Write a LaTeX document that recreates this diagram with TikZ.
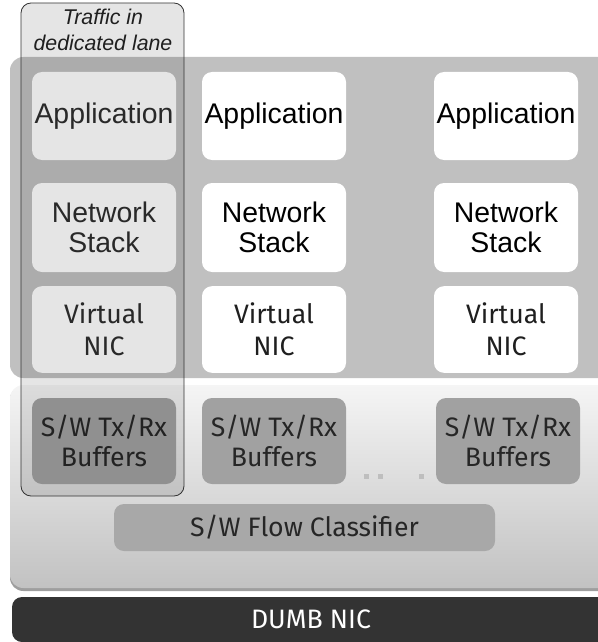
\documentclass[tikz,border=0pt]{standalone}
\usepackage{fontspec}
\setmainfont{Liberation Sans}
\newfontfamily\humfont{Fira Sans}
\usepackage{xcolor}

\definecolor{panelgray}{RGB}{192,192,192}
\definecolor{bufgray}{RGB}{161,161,161}
\definecolor{flowgray}{RGB}{168,168,168}
\definecolor{nicdark}{RGB}{51,51,51}
\definecolor{dotgray}{RGB}{190,190,190}

\tikzset{
  layerbox/.style={rounded corners=7.5pt, fill=white, inner sep=0pt, align=center,
    minimum width=108pt, minimum height=66pt, font=\fontsize{21.3}{23}\selectfont},
  vnicbox/.style={layerbox, minimum height=65pt, text=black!88,
    font=\humfont\fontsize{20}{24}\selectfont},
  bufbox/.style={layerbox, fill=bufgray, minimum height=64.5pt, text=black!85,
    font=\humfont\fontsize{20}{22.5}\selectfont},
  inlane/.style={fill=white, text=black!82},
}

\begin{document}
\begin{tikzpicture}[x=0.75pt,y=0.75pt,yscale=-1,xscale=1]
\useasboundingbox (0,0) rectangle (597,642);

%Shape: upper panel (guests)
\fill [panelgray, rounded corners=10pt] (10,57) rectangle (620,378) ;
%Shape: lower panel (host software)
\fill [black!38, rounded corners=10pt] (10,386) rectangle (620,591) ;
\shade [top color=black!4, bottom color=black!24, rounded corners=10pt] (10,385) rectangle (620,588) ;
%Shape: dumb nic bar
\node [fill=nicdark, rounded corners=7.5pt, inner sep=0pt, minimum width=448.5pt, minimum height=33.75pt,
  text=white, font=\humfont\fontsize{20}{24}\selectfont] (dumbnic) at (311,619.5) {DUMB NIC};

% Application row
\node [layerbox, inlane] (app1) at (104,116) {Application};
\node [layerbox] (app2) at (274,116) {Application};
\node [layerbox] (app3) at (506,116) {Application};

% Network stack row
\node [layerbox, inlane, minimum height=66.75pt] (stack1) at (104,227.5) {Network\\Stack};
\node [layerbox, minimum height=66.75pt] (stack2) at (274,227.5) {Network\\Stack};
\node [layerbox, minimum height=66.75pt] (stack3) at (506,227.5) {Network\\Stack};

% Virtual NIC row
\node [vnicbox, inlane] (vnic1) at (104,329.5) {Virtual\\NIC};
\node [vnicbox] (vnic2) at (274,329.5) {Virtual\\NIC};
\node [vnicbox] (vnic3) at (506,329.5) {Virtual\\NIC};

% Tx/Rx buffers row
\node [bufbox] (buf1) at (104,441) {S/W Tx/Rx\\Buffers};
\node [bufbox] (buf2) at (274,441) {S/W Tx/Rx\\Buffers};
\node [bufbox] (buf3) at (508,441) {S/W Tx/Rx\\Buffers};

%Shape: dots between buffers
\fill [dotgray] (363.5,473.5) rectangle +(5,5) ;
\fill [dotgray] (377.5,473.5) rectangle +(5,5) ;
\fill [dotgray] (418.5,473.5) rectangle +(5,5) ;

% Flow classifier
\node [layerbox, fill=flowgray, minimum width=285.75pt, minimum height=35.25pt, text=black!85,
  font=\humfont\fontsize{20}{24}\selectfont] (flowcls) at (304.5,527.5) {S/W Flow Classifier};

%Shape: dedicated lane
\draw [black!80, line width=0.6pt, fill=black, fill opacity=0.1, rounded corners=7.5pt] (21,3) rectangle (184,496) ;
% Text Node
\node [align=center, font=\itshape\fontsize{16}{19.5}\selectfont, text=black!88] (lanelabel) at (103,30) {Traffic in\\dedicated lane};

\end{tikzpicture}
\end{document}
